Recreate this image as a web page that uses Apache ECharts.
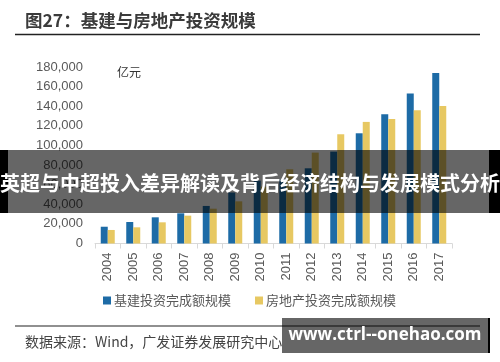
<!DOCTYPE html>
<html><head><meta charset="utf-8">
<script src="https://cdn.jsdelivr.net/npm/echarts@6/dist/echarts.min.js"></script>
<style>html,body{margin:0;padding:0;background:#fff}#c{width:500px;height:362px}</style>
</head><body><div id="c"></div>
<script>
const years = ['2004','2005','2006','2007','2008','2009','2010','2011','2012','2013','2014','2015','2016','2017'];
const infraInvest = [17100, 21900, 26700, 30800, 38300, 52000, 64100, 65300, 76700, 93700, 112400, 131800, 152900, 174000];
const realEstateInvest = [13800, 16500, 21600, 28400, 35500, 43000, 58000, 75700, 92700, 111400, 124000, 127000, 135900, 140300];
const seriesNames = ['基建投资完成额规模', '房地产投资完成额规模'];
const yTicks = [0, 20000, 40000, 60000, 80000, 100000, 120000, 140000, 160000, 180000];

const cjk = '"Noto Sans CJK SC", sans-serif';
const num = '"Liberation Sans", Arial, sans-serif';
const chart = echarts.init(document.getElementById('c'), null, {renderer: 'canvas'});
chart.setOption({
  animation: false,
  backgroundColor: '#fff',
  grid: {left: 95, right: 48, top: 67, bottom: 118.5, containLabel: false},
  legend: {
    left: 98, top: 289, itemWidth: 8, itemHeight: 8, itemGap: 24, icon: 'rect',
    textStyle: {fontFamily: cjk, fontSize: 13, color: '#595959', padding: [0,0,0,-2]},
    data: seriesNames
  },
  xAxis: {
    type: 'category', data: years, boundaryGap: true,
    axisLine: {lineStyle: {color: '#d9d9d9', width: 1}},
    axisTick: {show: true, length: 5, lineStyle: {color: '#d9d9d9'}},
    axisLabel: {rotate: 90, margin: 9, fontFamily: num, fontSize: 13, color: '#595959'}
  },
  yAxis: {
    type: 'value', min: yTicks[0], max: yTicks[yTicks.length-1], interval: 20000,
    axisLine: {show: false}, axisTick: {show: false}, splitLine: {show: false},
    axisLabel: {margin: 12, fontFamily: num, fontSize: 13, color: '#595959',
      formatter: v => v.toLocaleString('en-US')}
  },
  series: [
    {name: seriesNames[0], type: 'bar', data: infraInvest, barWidth: 7, barGap: '0%',
     itemStyle: {color: '#1D6BA6'}},
    {name: seriesNames[1], type: 'bar', data: realEstateInvest, barWidth: 7,
     itemStyle: {color: '#E7C862'}}
  ],
  graphic: [
    {type: 'text', left: 25, top: 12, style: {text: '图27：基建与房地产投资规模', font: 'bold 17.5px ' + cjk, fill: '#3b3b3b'}},
    {type: 'line', shape: {x1: 15, y1: 34.5, x2: 480, y2: 34.5}, style: {stroke: '#222', lineWidth: 1.5}},
    {type: 'text', left: 117, top: 66, style: {text: '亿元', font: '12px ' + cjk, fill: '#333'}},
    {type: 'line', shape: {x1: 15, y1: 326, x2: 480, y2: 326}, style: {stroke: '#222', lineWidth: 1.2}},
    {type: 'text', left: 25, top: 335, style: {text: '数据来源：Wind，广发证券发展研究中心', font: '14px ' + cjk, fill: '#444'}},
    {type: 'rect', z: 100, shape: {x: 0, y: 150, width: 8, height: 63}, style: {fill: '#000'}},
    {type: 'rect', z: 100, shape: {x: 489, y: 150, width: 11, height: 63}, style: {fill: '#000'}},
    {type: 'rect', z: 100, shape: {x: 8, y: 150, width: 481, height: 63}, style: {fill: 'rgba(0,0,0,0.6)'}},
    {type: 'text', z: 101, x: 250, y: 183, style: {text: '英超与中超投入差异解读及背后经济结构与发展模式分析', font: 'bold 20px ' + cjk, fill: '#fff', align: 'center', verticalAlign: 'middle'}},
    {type: 'rect', z: 100, shape: {x: 282, y: 318, width: 206, height: 35}, style: {fill: 'rgba(0,0,0,0.6)'}},
    {type: 'rect', z: 100, shape: {x: 488, y: 318, width: 2, height: 35}, style: {fill: '#000'}},
    {type: 'text', z: 101, x: 385, y: 335, style: {text: 'www.ctrl--onehao.com', font: 'bold 17px "Open Sans", "DejaVu Sans", sans-serif', fill: '#fff', align: 'center', verticalAlign: 'middle'}}
  ]
});
</script></body></html>
